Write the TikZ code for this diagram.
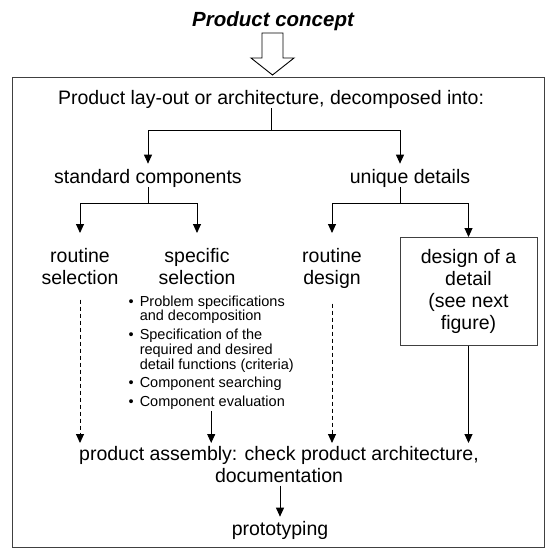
\documentclass[tikz,border=0pt]{standalone}
\usepackage{fontspec}
\setmainfont{Liberation Sans}
\usetikzlibrary{arrows.meta}
\definecolor{boxgray}{HTML}{404040}
\begin{document}
\begin{tikzpicture}[x=1pt,y=-1pt,
  conn/.style={line width=0.9pt, black},
  arr/.style={conn, -{Triangle[width=8pt,length=9pt]}},
  dashline/.style={dash pattern=on 4pt off 3pt},
  txt/.style={inner xsep=0pt, inner ysep=0pt, font=\fontsize{19.5}{22}\selectfont, align=center},
  frame/.style={draw=boxgray, line width=1.3pt, inner sep=0pt},
]
\useasboundingbox (0,0) rectangle (549,551);

% title and hollow arrow
\node[txt, anchor=base, font=\fontsize{20.5}{24}\selectfont\bfseries\itshape] (title) at (273,27) {Product concept};
\draw[line width=0.9pt, fill=white] (262,33) -- (283,33) -- (283,58) -- (294,58) -- (272.5,75) -- (251,58) -- (262,58) -- cycle;

% outer frame
\node[frame, anchor=north west, minimum width=532pt, minimum height=470pt] (outer) at (12,77) {};

\node[txt, anchor=base] (layout) at (271,104) {Product lay-out or architecture, decomposed into:};
\coordinate (j1) at (271,130);

\node[txt, anchor=base, inner ysep=5pt] (std) at (148,183) {standard components};
\node[txt, anchor=base, inner ysep=5pt] (uniq) at (410,183) {unique details};

\coordinate (j2) at (148,203);
\coordinate (j3) at (400,203);

\node[txt, anchor=north, inner ysep=15pt] (rsel) at (80,233) {routine\\selection};
\node[txt, anchor=north, inner ysep=15pt] (ssel) at (197,233) {specific\\selection};
\node[txt, anchor=north, inner ysep=15pt] (rdes) at (332,233) {routine\\design};
\node[txt, frame, line width=1pt, anchor=north, minimum width=137pt, minimum height=108pt] (dbox) at (468.5,237) {design of a\\detail\\(see next\\figure)};

\node[anchor=north west, inner sep=0pt, font=\fontsize{14.5}{14}\selectfont] (list) at (128.5,295.5) {%
\begin{tabular}{@{}l@{\hspace{6pt}}l@{}}
\textbullet & Problem specifications\\
 & and decomposition\\[4pt]
\textbullet & Specification of the\\
 & required and desired\\
 & detail functions (criteria)\\[4pt]
\textbullet & Component searching\\[4pt]
\textbullet & Component evaluation
\end{tabular}};

\node[txt, anchor=north, inner ysep=3pt] (asm) at (279,443) {product assembly: check product architecture,\\documentation};
\node[txt, anchor=base, inner ysep=4pt] (proto) at (280,535) {prototyping};

% connectors
\draw[conn] (layout.south) -- (j1);
\draw[arr] (j1) -| (std.north);
\draw[arr] (j1) -| ([xshift=-10pt]uniq.north);
\draw[conn] ([yshift=5pt]std.south) -- (j2);
\draw[arr] (j2) -| (rsel.north);
\draw[arr] (j2) -| (ssel.north);
\draw[conn] ([xshift=-10pt,yshift=5pt]uniq.south) -- (j3);
\draw[arr] (j3) -| (rdes.north);
\draw[arr] (j3) -| (dbox.north);
\draw[arr, dashline] (rsel.south) -- (rsel.south |- asm.north);
\draw[arr, dashline] (rdes.south) -- (rdes.south |- asm.north);
\draw[arr] (list.south) -- (list.south |- asm.north);
\draw[arr] (dbox.south) -- (dbox.south |- asm.north);
\draw[arr] (asm.south -| proto.north) -- (proto.north);
\end{tikzpicture}
\end{document}
